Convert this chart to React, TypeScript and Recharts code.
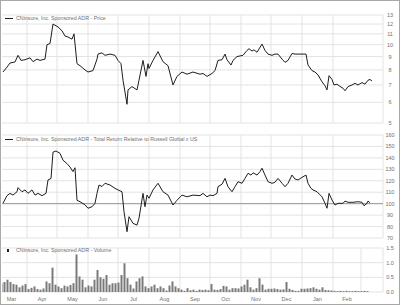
import React from "react";
import {
  LineChart,
  Line,
  BarChart,
  Bar,
  XAxis,
  YAxis,
  CartesianGrid,
  ReferenceLine,
} from "recharts";

// day 0 = first trading day shown (early March); months start on these days
const monthLabels = ["Mar", "Apr", "May", "Jun", "Jul", "Aug", "Sep", "Oct", "Nov", "Dec", "Jan", "Feb"];
const monthStarts = [-6, 25, 55, 86, 116, 147, 178, 208, 239, 269, 300, 331, 359];
const lastDay = 381;

const priceTicks = [5, 6, 7, 8, 9, 10, 11, 12, 13];
const relTicks = [70, 80, 90, 100, 110, 120, 130, 140, 150, 160];
const volTicks = [0, 0.5, 1, 1.5];

const priceDays = [
  1, 5, 8, 13, 16, 19, 23, 28, 31, 35, 38, 43, 45, 48, 51, 56, 60, 63, 66, 70, 72, 75, 78, 83, 86, 91, 95, 96,
  100, 103, 108, 113, 116, 119, 121, 125, 126, 130, 135, 137, 141, 144, 146, 147, 151, 156, 161, 166, 171, 175,
  180, 185, 191, 198, 201, 205, 210, 213, 216, 220, 223, 225, 229, 231, 235, 238, 241, 245, 247, 250, 252, 255,
  260, 263, 266, 270, 273, 276, 280, 283, 286, 290, 293, 296, 301, 304, 306, 310, 313, 316, 320, 323, 325, 327,
  330, 332, 335, 337, 341, 343, 346, 350, 353, 356, 360, 363, 366, 368, 370,
];
const priceValues = [
  7.85, 8.2, 8.5, 8.58, 9.1, 8.7, 8.75, 8.9, 8.6, 8.8, 8.7, 8.8, 10.0, 10.1, 12.0, 11.7, 11.3, 10.8, 10.7, 10.5,
  11.0, 8.45, 8.3, 8.0, 7.85, 7.95, 8.8, 9.2, 9.3, 9.1, 9.2, 9.1, 8.7, 8.45, 7.3, 5.9, 6.7, 6.9, 6.7, 7.3, 8.7,
  7.55, 8.45, 8.1, 8.7, 9.4, 8.6, 8.3, 7.0, 7.55, 7.85, 7.7, 7.85, 7.7, 7.75, 7.55, 7.75, 7.95, 8.7, 8.75, 9.2,
  8.75, 8.35, 8.7, 9.0, 9.05, 9.1, 9.5, 9.65, 9.45, 9.55, 9.35, 10.05, 9.5, 9.2, 9.1, 9.2, 9.2, 8.8, 8.55, 8.7,
  9.25, 9.2, 9.2, 9.2, 9.2, 8.35, 7.95, 7.85, 7.65, 7.2, 6.95, 6.7, 7.6, 7.35, 7.0, 7.05, 6.95, 6.8, 6.65, 6.9,
  7.0, 7.1, 7.0, 7.15, 7.05, 7.3, 7.35, 7.25,
];

const relDays = [
  1, 5, 8, 11, 15, 16, 20, 23, 26, 30, 33, 36, 40, 44, 46, 49, 51, 54, 58, 61, 65, 68, 71, 73, 75, 78, 83, 86, 90,
  93, 95, 97, 100, 103, 108, 113, 116, 120, 122, 125, 127, 131, 135, 137, 141, 143, 145, 147, 151, 156, 161, 166,
  171, 175, 180, 185, 191, 198, 201, 205, 208, 211, 215, 216, 220, 223, 226, 230, 233, 236, 240, 243, 246, 249,
  251, 255, 258, 260, 263, 266, 270, 273, 276, 280, 283, 286, 290, 293, 296, 301, 304, 306, 309, 311, 315, 320,
  323, 325, 327, 330, 333, 336, 341, 343, 346, 351, 356, 360, 362, 365, 366, 368,
];
const relValues = [
  100.4, 107, 109, 107.5, 110.4, 114, 110.4, 112, 109, 112, 107.5, 109, 107, 109, 120.7, 122, 145, 146, 144, 138,
  135, 132, 128, 131.4, 103, 101.7, 99, 96, 97.3, 100.3, 109, 116.3, 115, 117.8, 116.3, 113.4, 112, 110.4, 93,
  75.5, 88.6, 82.8, 81.3, 87.2, 109, 97.3, 107.5, 104.7, 112, 117.8, 110.4, 107.5, 98.8, 103, 107.5, 106, 107.5,
  107, 109, 106, 107.5, 107, 109, 114.8, 117, 122.1, 114.8, 110.4, 114.8, 119.2, 117.8, 122.1, 126.5, 125, 127,
  125, 128, 131, 125, 119.2, 117.8, 118.7, 122.1, 117.8, 114.8, 117.8, 125, 121.5, 120.7, 123.5, 125, 117.8,
  113.4, 112, 110.4, 106, 100.3, 96, 109, 103.2, 98.8, 100.3, 100.3, 102.3, 101.2, 101.2, 101.7, 101.2, 98.2,
  100.3, 102.3, 100.8,
];

// volume (millions of shares), one bar every 3 days from day 0
const volStep = 3;
const volValues = [
  0.3, 0.34, 0.42, 0.34, 0.27, 0.25, 0.16, 0.22, 0.27, 0.1, 0.14, 0.19, 0.1, 0.08, 0.12, 0.36, 0.3, 0.83, 0.25,
  0.19, 0.13, 0.22, 0.19, 0.24, 0.3, 1.28, 0.53, 0.42, 0.16, 0.22, 0.19, 0.42, 0.75, 0.5, 0.45, 0.58, 0.25, 0.3,
  0.3, 0.32, 0.58, 0.98, 0.47, 0.25, 0.12, 0.36, 0.47, 0.53, 0.19, 0.13, 0.19, 0.25, 0.13, 0.19, 0.13, 0.05,
  0.22, 0.36, 0.19, 0.13, 0.08, 0.04, 0.13, 0.06, 0.08, 0.04, 0.08, 0.07, 0.08, 0.06, 0.27, 0.08, 0.07, 0.1,
  0.21, 0.19, 0.08, 0.13, 0.13, 0.12, 0.19, 0.25, 0.42, 0.16, 0.08, 0.13, 0.47, 0.25, 0.08, 0.11, 0.11, 0.12,
  0.1, 0.08, 0.09, 0.34, 0.11, 0.07, 0.04, 0.04, 0.11, 0.11, 0.12, 0.13, 0.16, 0.11, 0.08, 0.16, 0.07, 0.06,
  0.05, 0.04, 0.03, 0.04, 0.03, 0.04, 0.03, 0.03, 0.04, 0.03, 0.03, 0.04, 0.03,
];

const priceData = priceDays.map((day, i) => ({ day, v: priceValues[i] }));
const relData = relDays.map((day, i) => ({ day, v: relValues[i] }));
const volData = volValues.map((v, i) => ({ day: i * volStep, v }));

const gridDays = [...monthStarts.slice(1, -1), monthStarts[monthStarts.length - 1], lastDay];
const labelDays = monthLabels.map((_, i) => (monthStarts[i] + monthStarts[i + 1]) / 2);

const FONT = "'Liberation Sans', Arial, sans-serif";
const TEXT = "#6f6f6f";
const GRID = "#e3e3e3";
const LINE = "#1e1e1e";

const RightTick = (props: any) => {
  const { x, y, payload, decimals } = props;
  const label = decimals ? Number(payload.value).toFixed(decimals) : String(payload.value);
  return (
    <text x={x + 7} y={y} textAnchor="middle" dominantBaseline="central" fontSize={5.5} fontFamily={FONT} fill={TEXT}>
      {label}
    </text>
  );
};

const MonthTick = (props: any) => {
  const { x, y, index } = props;
  return (
    <text x={x} y={y + 7} textAnchor="middle" dominantBaseline="central" fontSize={5.5} fontFamily={FONT} fill={TEXT}>
      {monthLabels[index]}
    </text>
  );
};

function LegendLabel({ top, text, bar }: { top: number; text: string; bar?: boolean }) {
  return (
    <div
      style={{
        position: "absolute",
        left: 5,
        top: top - 4,
        height: 8,
        display: "flex",
        alignItems: "center",
        fontFamily: FONT,
        fontSize: 5.3,
        color: TEXT,
        whiteSpace: "nowrap",
      }}
    >
      {bar ? (
        <span style={{ width: 2, height: 3, background: LINE, marginRight: 7, marginLeft: 2 }} />
      ) : (
        <span style={{ width: 8, height: 1, background: LINE, marginRight: 3 }} />
      )}
      <span>{text}</span>
    </div>
  );
}

const name = "CNinsure, Inc. Sponsored ADR";

export default function App() {
  return (
    <div style={{ position: "relative", width: 400, height: 305, background: "#fff", overflow: "hidden" }}>
      <style>{"body{margin:0}"}</style>

      <div style={{ position: "absolute", left: 0, top: 0 }}>
        <LineChart width={400} height={128} data={priceData} margin={{ top: 15, right: 0, bottom: 5, left: 2 }}>
          <CartesianGrid stroke={GRID} strokeWidth={1} verticalValues={gridDays} />
          <XAxis dataKey="day" type="number" domain={[0, lastDay]} hide allowDataOverflow />
          <YAxis
            orientation="right"
            scale="log"
            type="number"
            domain={[5, 13]}
            ticks={priceTicks}
            allowDataOverflow
            width={17}
            tickSize={0}
            tickMargin={0}
            axisLine={false}
            tickLine={false}
            tick={<RightTick />}
            interval={0}
          />
          <Line dataKey="v" type="linear" stroke={LINE} strokeWidth={1} dot={false} isAnimationActive={false} />
        </LineChart>
      </div>

      <div style={{ position: "absolute", left: 0, top: 128 }}>
        <LineChart width={400} height={112} data={relData} margin={{ top: 7, right: 0, bottom: 2, left: 2 }}>
          <CartesianGrid stroke={GRID} strokeWidth={1} verticalValues={gridDays} />
          <XAxis dataKey="day" type="number" domain={[0, lastDay]} hide allowDataOverflow />
          <YAxis
            orientation="right"
            type="number"
            domain={[70, 160]}
            ticks={relTicks}
            allowDataOverflow
            width={17}
            tickSize={0}
            tickMargin={0}
            axisLine={false}
            tickLine={false}
            tick={<RightTick />}
            interval={0}
          />
          <ReferenceLine y={100} stroke="#9a9a9a" strokeWidth={1} />
          <Line dataKey="v" type="linear" stroke={LINE} strokeWidth={1} dot={false} isAnimationActive={false} />
        </LineChart>
      </div>

      <div style={{ position: "absolute", left: 0, top: 240 }}>
        <BarChart width={400} height={65} data={volData} margin={{ top: 8, right: 0, bottom: 3, left: 2 }}>
          <CartesianGrid stroke={GRID} strokeWidth={1} verticalValues={gridDays} />
          <XAxis
            dataKey="day"
            type="number"
            domain={[0, lastDay]}
            ticks={labelDays}
            interval={0}
            height={10}
            tickSize={0}
            tickMargin={0}
            axisLine={false}
            tickLine={false}
            tick={<MonthTick />}
            allowDataOverflow
          />
          <YAxis
            orientation="right"
            type="number"
            domain={[0, 1.5]}
            ticks={volTicks}
            allowDataOverflow
            width={17}
            tickSize={0}
            tickMargin={0}
            axisLine={false}
            tickLine={false}
            tick={<RightTick decimals={1} />}
            interval={0}
          />
          <Bar dataKey="v" fill="#7a7a7a" barSize={2} isAnimationActive={false} />
        </BarChart>
      </div>

      <LegendLabel top={18} text={`${name} - Price`} />
      <LegendLabel top={139} text={`${name} - Total Return Relative to Russell Global x US`} />
      <LegendLabel top={250} text={`${name} - Volume`} bar />

      <div
        style={{
          position: "absolute",
          inset: 0,
          border: "1px solid #a8a8a8",
          pointerEvents: "none",
        }}
      />
    </div>
  );
}
